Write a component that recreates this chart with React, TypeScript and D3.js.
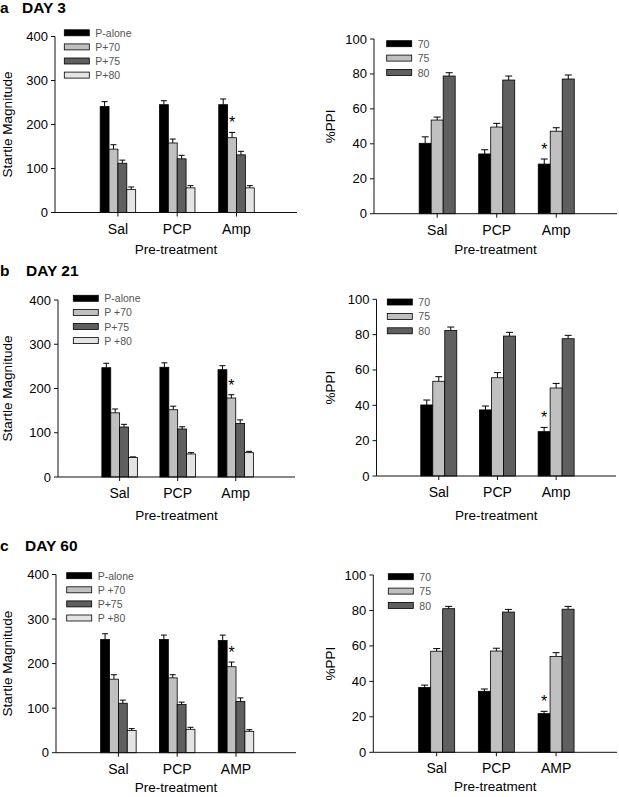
import React from "react";
import * as d3 from "d3";

// ---------- data ----------
const categoriesLower = ["Sal", "PCP", "Amp"];
const categoriesUpper = ["Sal", "PCP", "AMP"];

const startleSeriesDay3 = ["P-alone", "P+70", "P+75", "P+80"];
const startleSeriesLater = ["P-alone", "P +70", "P+75", "P +80"];
const ppiSeries = ["70", "75", "80"];

const startleTicks = [0, 100, 200, 300, 400];
const ppiTicks = [0, 20, 40, 60, 80, 100];

// rows = categories (Sal, PCP, Amp); columns = series
const startleDay3 = [[241, 144, 112, 52], [245, 158, 122, 56], [245, 170, 131, 56]];
const startleDay3Err = [[11, 10, 7, 6], [9, 9, 8, 5], [13, 12, 8, 5]];
const ppiDay3 = [[40.3, 53.6, 78.8], [34.2, 49.6, 76.5], [28.4, 47.2, 77.1]];
const ppiDay3Err = [[3.7, 1.7, 1.9], [2.4, 2.1, 2.3], [2.9, 2.0, 2.3]];

const startleDay21 = [[247, 145, 113, 44], [248, 152, 108.5, 52], [242.5, 178.5, 121, 55]];
const startleDay21Err = [[10, 8.7, 6, 1.5], [10, 8, 5, 3], [9, 7.5, 8, 3]];
const ppiDay21 = [[40.2, 53.6, 82.4], [37.4, 55.6, 79.2], [25.1, 49.8, 77.7]];
const ppiDay21Err = [[2.8, 2.6, 1.9], [2.2, 2.9, 2.1], [2.4, 2.6, 1.9]];

const startleDay60 = [[254, 165, 111, 50], [254, 168, 108, 52.5], [252, 193, 115, 48]];
const startleDay60Err = [[13, 10, 7, 4], [10, 7, 5.5, 4.5], [12, 10.5, 8, 3.6]];
const ppiDay60 = [[36.5, 57, 81], [34.4, 57.1, 79.1], [21.8, 54.1, 80.7]];
const ppiDay60Err = [[1.4, 1.5, 1.3], [1.3, 1.6, 1.5], [1.3, 2.1, 1.6]];

// significance markers: [category index, series index]
const startleStars = [[2, 1]];
const ppiStars = [[2, 0]];

const panelLetters = ["a", "b", "c"];
const dayTitles = ["DAY 3", "DAY 21", "DAY 60"];

// ---------- styles ----------
const FONT = "'Liberation Sans', Arial, Helvetica, sans-serif";
const startleColors = ["#000000", "#c0c0c0", "#5f5f5f", "#e4e4e4"];
const ppiColors = ["#000000", "#c0c0c0", "#5f5f5f"];

type Spec = {
  x0: number; x1: number; yTop: number; y0: number; max: number;
  ticks: number[]; series: string[]; cats: string[];
  values: number[][]; errs: number[][]; colors: string[];
  groupW: number; legendX: number; legendY: number; legendStep: number;
  stars: number[][]; yLabel: string; yLabelX: number; capW: number; xTitleDy: number;
};

function Panel({ s }: { s: Spec }) {
  const y = d3.scaleLinear().domain([0, s.max]).range([s.y0, s.yTop]);
  const w = s.x1 - s.x0;
  const xc = d3.scalePoint<string>().domain(s.cats).range([s.x0 + 0.26 * w, s.x1 - 0.25 * w]);
  const xb = d3.scaleBand<string>().domain(s.series).range([-s.groupW / 2, s.groupW / 2]).padding(0);
  const bw = xb.bandwidth();
  const midY = (s.y0 + s.yTop) / 2;
  const midX = (s.x0 + s.x1) / 2;
  return (
    <g>
      {s.cats.map((c, ci) =>
        s.series.map((ser, si) => {
          const v = s.values[ci][si];
          const e = s.errs[ci][si];
          const bx = (xc(c) as number) + (xb(ser) as number);
          const cx = bx + bw / 2;
          return (
            <g key={c + ser}>
              <line x1={cx} x2={cx} y1={y(v)} y2={y(v + e)} stroke="#000" strokeWidth={1} />
              <line x1={cx - s.capW / 2} x2={cx + s.capW / 2} y1={y(v + e)} y2={y(v + e)} stroke="#000" strokeWidth={1} />
              <rect x={bx} y={y(v)} width={bw} height={s.y0 - y(v)} fill={s.colors[si]} stroke="#000" strokeWidth={0.8} />
            </g>
          );
        })
      )}
      {s.stars.map(([ci, si]) => {
        const c = s.cats[ci];
        const ser = s.series[si];
        const cx = (xc(c) as number) + (xb(ser) as number) + bw / 2;
        const top = y(s.values[ci][si] + s.errs[ci][si]);
        return (
          <text key={"st" + ci + si} x={cx} y={top - 4} textAnchor="middle" fontSize={16} fontFamily={FONT}>*</text>
        );
      })}
      <line x1={s.x0} x2={s.x0} y1={s.yTop} y2={s.y0} stroke="#111" strokeWidth={1} />
      <line x1={s.x0} x2={s.x1} y1={s.y0} y2={s.y0} stroke="#111" strokeWidth={1} />
      {s.ticks.map((t) => (
        <g key={"t" + t}>
          <line x1={s.x0 - 4} x2={s.x0} y1={y(t)} y2={y(t)} stroke="#111" strokeWidth={1} />
          <text x={s.x0 - 7} y={y(t)} textAnchor="end" dominantBaseline="central" fontSize={13} fontFamily={FONT}>{t}</text>
        </g>
      ))}
      {s.cats.map((c) => (
        <g key={"c" + c}>
          <line x1={xc(c) as number} x2={xc(c) as number} y1={s.y0} y2={s.y0 + 4} stroke="#111" strokeWidth={1} />
          <text x={xc(c) as number} y={s.y0 + 21} textAnchor="middle" fontSize={14} fontFamily={FONT}>{c}</text>
        </g>
      ))}
      <text x={midX} y={s.y0 + s.xTitleDy} textAnchor="middle" fontSize={13.5} fontFamily={FONT}>Pre-treatment</text>
      <text transform={`translate(${s.yLabelX},${midY}) rotate(-90)`} textAnchor="middle" dominantBaseline="central" fontSize={13.5} fontFamily={FONT}>{s.yLabel}</text>
      {s.series.map((ser, si) => {
        const ly = s.legendY + si * s.legendStep;
        return (
          <g key={"l" + ser}>
            <rect x={s.legendX} y={ly - 3} width={25} height={6} fill={s.colors[si]} stroke="#000" strokeWidth={0.8} />
            <text x={s.legendX + 31} y={ly} dominantBaseline="central" fontSize={10.5} fill="#555" fontFamily={FONT}>{ser}</text>
          </g>
        );
      })}
    </g>
  );
}

const leftLayout = [
  { x0: 55, x1: 297, yTop: 36.5, y0: 212.5, legendX: 64.3, legendY: 32.8, xTitleDy: 41 },
  { x0: 58, x1: 295, yTop: 300, y0: 477, legendX: 73.3, legendY: 298.3, xTitleDy: 43 },
  { x0: 56, x1: 296, yTop: 574.5, y0: 752.7, legendX: 66.7, legendY: 575.7, xTitleDy: 39 },
];
const rightLayout = [
  { x0: 374, x1: 617, yTop: 39, y0: 213.7, legendX: 386.7, legendY: 43.7, xTitleDy: 40 },
  { x0: 376.5, x1: 616, yTop: 299.3, y0: 476, legendX: 387.3, legendY: 302, xTitleDy: 44 },
  { x0: 373.3, x1: 617, yTop: 575, y0: 752.3, legendX: 388.3, legendY: 576.7, xTitleDy: 39 },
];
const titleBaselines = [12.7, 275.7, 550.7];
const titleX = [22, 26, 25];

export default function App() {
  const startleVals = [startleDay3, startleDay21, startleDay60];
  const startleErrs = [startleDay3Err, startleDay21Err, startleDay60Err];
  const ppiVals = [ppiDay3, ppiDay21, ppiDay60];
  const ppiErrs = [ppiDay3Err, ppiDay21Err, ppiDay60Err];
  const startleSeries = [startleSeriesDay3, startleSeriesLater, startleSeriesLater];
  const cats = [categoriesLower, categoriesLower, categoriesUpper];

  return (
    <svg width={619} height={797} style={{ position: "absolute", left: 0, top: 0, background: "#fff" }}>
      <rect width={619} height={797} fill="#fff" />
      {[0, 1, 2].map((i) => (
        <g key={i}>
          <text x={0} y={titleBaselines[i]} fontSize={15.5} fontWeight="bold" fontFamily={FONT}>{panelLetters[i]}</text>
          <text x={titleX[i]} y={titleBaselines[i]} fontSize={15.5} fontWeight="bold" fontFamily={FONT}>{dayTitles[i]}</text>
          <Panel
            s={{
              ...leftLayout[i], max: 400, ticks: startleTicks, series: startleSeries[i], cats: cats[i],
              values: startleVals[i], errs: startleErrs[i], colors: startleColors, groupW: 35.5,
              legendStep: 14.1, stars: startleStars, yLabel: "Startle Magnitude", yLabelX: 7, capW: 6,
            }}
          />
          <Panel
            s={{
              ...rightLayout[i], max: 100, ticks: ppiTicks, series: ppiSeries, cats: cats[i],
              values: ppiVals[i], errs: ppiErrs[i], colors: ppiColors, groupW: 36,
              legendStep: 14.4, stars: ppiStars, yLabel: "%PPI", yLabelX: 330, capW: 7,
            }}
          />
        </g>
      ))}
    </svg>
  );
}
